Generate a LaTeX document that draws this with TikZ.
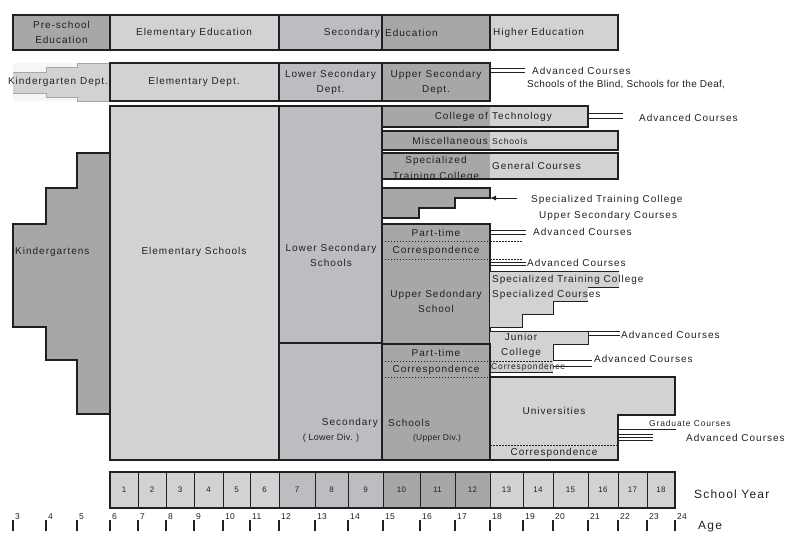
\documentclass[tikz,border=0pt]{standalone}
\usepackage{fontspec}
\setmainfont{Liberation Sans}[LetterSpace=10]
\newfontfamily\tightfont{Liberation Sans}[LetterSpace=3]
\usetikzlibrary{arrows.meta}
\definecolor{lt}{RGB}{209,210,212}
\definecolor{md}{RGB}{188,189,192}
\definecolor{dk}{RGB}{166,167,169}
\definecolor{ink}{RGB}{35,31,32}
\begin{document}
\begin{tikzpicture}[x=1pt,y=-1pt,
  every node/.style={inner sep=0pt, font=\fontsize{10}{15}\selectfont, align=center, text=ink},
  box/.style={draw=ink, line width=1.1pt},
  thinln/.style={draw=ink, line width=0.9pt},
  dotln/.style={draw=ink, line width=1pt, dotted},
  dashln/.style={draw=ink, line width=0.8pt, dash pattern=on 2pt off 1pt},
  small/.style={font=\fontsize{8.5}{10}\selectfont},
  tiny/.style={font=\tightfont\fontsize{8.5}{10}\selectfont},
  big/.style={font=\fontsize{12}{14}\selectfont}]
\useasboundingbox (0,0) rectangle (788,533);

% ---------------- header row
\filldraw[box, fill=dk] (13,15) rectangle (110,50);
\filldraw[box, fill=lt] (110,15) rectangle (279,50);
\filldraw[box, fill=md] (279,15) rectangle (382,50);
\filldraw[box, fill=dk] (382,15) rectangle (490,50);
\filldraw[box, fill=lt] (490,15) rectangle (618,50);
\node (hpre) at (61.5,32.5) {Pre-school\\Education};
\node (hele) at (194,32.5) {Elementary Education};
\node[anchor=east] (hsec) at (380,32.5) {Secondary};
\node[anchor=west] (hedu) at (385,32.5) {Education};
\node[anchor=west] (hhig) at (493,32.5) {Higher Education};

% ---------------- second row
\fill[gray!7] (13,63) rectangle (110,101);
\fill[lt] (13,72) -- (46,72) -- (46,67) -- (77,67) -- (77,63) -- (110,63) -- (110,101)
  -- (77,101) -- (77,97) -- (46,97) -- (46,93) -- (13,93) -- cycle;
\draw[gray!70, line width=0.6pt] (13,72) -- (46,72) -- (46,67) -- (77,67) -- (77,63) -- (110,63);
\draw[gray!70, line width=0.6pt] (13,93) -- (46,93) -- (46,97) -- (77,97) -- (77,101) -- (110,101);
\filldraw[box, fill=lt] (110,63) rectangle (279,101);
\filldraw[box, fill=md] (279,63) rectangle (382,101);
\filldraw[box, fill=dk] (382,63) rectangle (490,101);
\node (kdept) at (58,82) {Kindergarten Dept.};
\node (edept) at (194,82) {Elementary Dept.};
\node (lsdept) at (330.5,82) {Lower Secondary\\Dept.};
\node (usdept) at (436,82) {Upper Secondary\\Dept.};
\coordinate (ad1) at (525,68);
\draw[thinln] (490,68) -- (ad1);
\draw[thinln] (490,72) -- (525,72);
\node[anchor=west] (adv1) at (532,71) {Advanced Courses};
\node[anchor=west, font=\tightfont\fontsize{10}{12}\selectfont] (blind) at (527,85) {Schools of the Blind, Schools for the Deaf,};

% ---------------- kindergartens & elementary & lower secondary
\filldraw[box, fill=dk] (110,153) -- (77,153) -- (77,188) -- (46,188) -- (46,224) -- (13,224)
  -- (13,327) -- (46,327) -- (46,360) -- (77,360) -- (77,414) -- (110,414);
\filldraw[box, fill=lt] (110,106) rectangle (279,460);
\filldraw[box, fill=md] (279,106) rectangle (382,343);
\filldraw[box, fill=md] (279,343) rectangle (382,460);
\node[anchor=west] (kinder) at (15,252) {Kindergartens};
\node (elem) at (194,252) {Elementary Schools};
\node (lss) at (331,255.5) {Lower Secondary\\Schools};
\node[anchor=east] (ssec) at (378,423) {Secondary};
\node[font=\tightfont\fontsize{9}{11}\selectfont] (lowdiv) at (331,438) {( Lower Div. )};

% ---------------- college of technology etc.
\fill[dk] (382,106) rectangle (490,127);
\fill[lt] (490,106) rectangle (588,127);
\draw[box] (382,106) rectangle (588,127);
\node[anchor=east] (cot1) at (488,116.5) {College of};
\node[anchor=west] (cot2) at (492,116.5) {Technology};
\draw[thinln] (588,113) -- (623,113);
\draw[thinln] (588,118) -- (623,118);
\node[anchor=west] (adv2) at (639,118) {Advanced Courses};

\fill[dk] (382,131) rectangle (490,150);
\fill[lt] (490,131) rectangle (618,150);
\draw[box] (382,131) rectangle (618,150);
\node[anchor=east] (mis1) at (488,141) {Miscellaneous};
\node[anchor=west, small] (mis2) at (492,141.5) {Schools};

\fill[dk] (382,153) rectangle (490,179);
\fill[lt] (490,153) rectangle (618,179);
\node (stc1) at (436,161) {Specialized};
\begin{scope}
\clip (382,153) rectangle (490,179);
\node (stc2) at (436,177) {Training College};
\end{scope}
\draw[box] (382,153) rectangle (618,179);
\node[anchor=west] (gen) at (492,166) {General Courses};

% stepped upper secondary courses
\filldraw[box, fill=dk] (382,188) -- (490,188) -- (490,198) -- (455,198) -- (455,208) -- (419,208)
  -- (419,218) -- (382,218) -- cycle;
\coordinate (arrS) at (517,198);
\coordinate (arrE) at (490,198);
\draw[thinln, -{Latex[length=6pt,width=5pt]}] (arrS) -- (arrE);
\node[anchor=west] (stcu1) at (531,200) {Specialized Training College};
\node[anchor=west] (stcu2) at (539,216) {Upper Secondary Courses};

% ---------------- upper secondary school
\filldraw[box, fill=dk] (382,224) rectangle (490,344);
\draw[dotln] (382,241) -- (490,241);
\draw[dotln] (382,259) -- (490,259);
\node (pt1) at (436,233) {Part-time};
\node (cor1) at (436,250.5) {Correspondence};
\node (uss) at (436,301.5) {Upper Sedondary\\School};
\draw[thinln] (490,230) -- (526,230);
\draw[thinln] (490,234) -- (526,234);
\draw[dashln] (490,241) -- (522,241);
\draw[dashln] (490,259) -- (522,259);
\draw[thinln] (490,262) -- (526,262);
\draw[thinln] (490,265.5) -- (526,265.5);
\node[anchor=west] (adv3) at (533,232) {Advanced Courses};
\node[anchor=west] (adv4) at (527,263) {Advanced Courses};

% specialized training college specialized courses
\fill[lt] (490,271) -- (619,271) -- (619,287) -- (588,287) -- (588,301) -- (553,301) -- (553,314)
  -- (522,314) -- (522,327) -- (490,327) -- cycle;
\draw[thinln] (490,271) -- (619,271);
\draw[thinln] (588,287) -- (619,287);
\draw[thinln] (553,301) -- (588,301);
\draw[thinln] (553,301) -- (553,314) -- (522,314) -- (522,327) -- (490,327);
\node[anchor=west] (stcs1) at (492,280) {Specialized Training College};
\node[anchor=west] (stcs2) at (492,294.5) {Specialized Courses};

% junior college
\fill[lt] (490,331) -- (588,331) -- (588,344) -- (553,344) -- (553,372) -- (490,372) -- cycle;
\draw[thinln] (490,331) -- (620,331);
\draw[thinln] (588,335) -- (620,335);
\draw[thinln] (588,331) -- (588,344) -- (553,344) -- (553,360) -- (592,360);
\draw[thinln] (553,366) -- (592,366);
\draw[dashln] (490,361) -- (553,361);
\draw[thinln] (490,372) -- (553,372);
\node (jc) at (521,345.5) {Junior\\College};
\node[anchor=west, small] (jcor) at (491,367) {Correspondence};
\node[anchor=west] (adv5) at (621,335) {Advanced Courses};
\node[anchor=west] (adv6) at (594,358.5) {Advanced Courses};

% ---------------- upper div
\filldraw[box, fill=dk] (382,344) rectangle (490,460);
\draw[dotln] (382,361) -- (490,361);
\draw[dotln] (382,377) -- (490,377);
\node (pt2) at (436,352.5) {Part-time};
\node (cor2) at (436,369.5) {Correspondence};
\node[anchor=west] (ssch) at (388,423) {Schools};
\node[tiny] (updiv) at (437,438) {(Upper Div.)};

% ---------------- universities
\filldraw[box, fill=lt] (490,377) -- (675,377) -- (675,415) -- (618,415) -- (618,460) -- (490,460) -- cycle;
\draw[dashln] (490,445) -- (618,445);
\node (univ) at (554,410.5) {Universities};
\node (ucor) at (554,453) {Correspondence};
\draw[thinln] (618,429) -- (676,429);
\node[anchor=west, small] (grad) at (649,423) {Graduate Courses};
\draw[thinln] (618,434) -- (653,434);
\draw[thinln] (618,437) -- (653,437);
\draw[thinln] (618,440) -- (653,440);
\node[anchor=west] (adv7) at (686,438) {Advanced Courses};

% ---------------- school year
\foreach \a/\b/\n/\c in {110/138/1/lt,138/166/2/lt,166/194/3/lt,194/223/4/lt,223/250/5/lt,250/279/6/lt,
  279/315/7/md,315/348/8/md,348/383/9/md,383/420/10/dk,420/455/11/dk,455/490/12/dk,
  490/523/13/lt,523/553/14/lt,553/588/15/lt,588/618/16/lt,618/647/17/lt,647/675/18/lt}{
  \filldraw[fill=\c, draw=ink, line width=0.8pt] (\a,472) rectangle (\b,508);
  \node[font=\tightfont\fontsize{8}{10}\selectfont] (y\n) at ({(\a+\b)/2},490) {\n};
}
\draw[box, line width=1.5pt] (110,472) rectangle (675,508);
\node[anchor=west, big] (sy) at (694,494) {School Year};

% ---------------- age scale
\foreach \x/\n in {13/3,46/4,77/5,110/6,138/7,166/8,194/9,223/10,250/11,279/12,315/13,348/14,
  383/15,420/16,455/17,490/18,523/19,553/20,588/21,618/22,647/23,675/24}{
  \coordinate (t\n) at (\x,520);
  \draw[ink, line width=1.4pt] (t\n) -- (\x,531);
  \node[anchor=south west, font=\tightfont\fontsize{8.5}{10}\selectfont] (a\n) at (\x+2,519.5) {\n};
}
\node[anchor=west, big] (age) at (698,527) {Age};
\end{tikzpicture}
\end{document}
